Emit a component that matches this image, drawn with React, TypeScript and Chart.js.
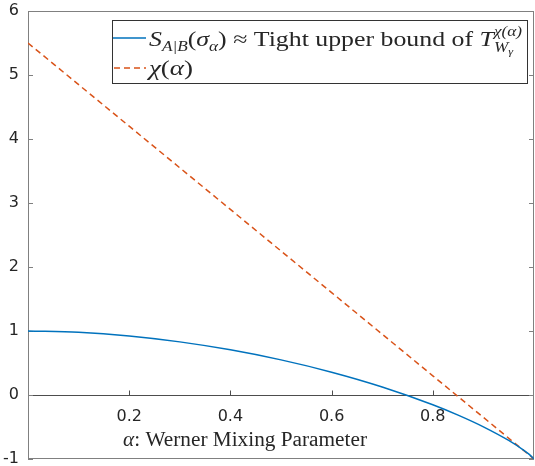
import React, { useEffect, useRef } from "react";
import { Chart, registerables } from "chart.js";
Chart.register(...registerables);

// ---- data ----
const alphaS = [0, 0.1, 0.2, 0.3, 0.4, 0.5, 0.6, 0.7, 0.8, 0.85, 0.9, 0.95, 0.98, 0.99, 1];
const sValues = [1.0, 0.98, 0.922, 0.83, 0.706, 0.549, 0.357, 0.126, -0.152, -0.314, -0.497, -0.71, -0.864, -0.924, -1.0];
const alphaChi = [0, 0.2, 0.4, 0.6, 0.8, 1];
const chiValues = [5.5, 4.2, 2.9, 1.6, 0.3, -1];
const xTicks = [0.2, 0.4, 0.6, 0.8];
const yTicks = [-1, 0, 1, 2, 3, 4, 5, 6];

const SERIF = "'Liberation Serif', 'Times New Roman', serif";
const TEXT = "#262626";

type Run = { t: string; it?: boolean; s: number; dy: number; hold?: boolean };

function drawRuns(ctx: CanvasRenderingContext2D, runs: Run[], x0: number, baseline: number, targetW: number) {
  let cx = 0;
  let maxX = 0;
  const items: { r: Run; x: number }[] = [];
  for (const r of runs) {
    ctx.font = `${r.it ? "italic " : ""}${r.s}px ${SERIF}`;
    const w = ctx.measureText(r.t).width;
    items.push({ r, x: cx });
    maxX = Math.max(maxX, cx + w);
    if (!r.hold) cx += w;
  }
  const sx = targetW / maxX;
  ctx.save();
  ctx.translate(x0, baseline);
  ctx.scale(sx, 1);
  ctx.fillStyle = TEXT;
  ctx.textBaseline = "alphabetic";
  ctx.textAlign = "left";
  for (const { r, x } of items) {
    ctx.font = `${r.it ? "italic " : ""}${r.s}px ${SERIF}`;
    ctx.fillText(r.t, x, r.dy);
  }
  ctx.restore();
}

const decoPlugin = {
  id: "deco",
  beforeDatasetsDraw(chart: any) {
    const { ctx, chartArea: a, scales } = chart;
    const x = scales.x;
    const y = scales.y;
    ctx.save();
    ctx.lineWidth = 1;
    ctx.strokeStyle = "#808080";
    ctx.strokeRect(a.left + 0.5, a.top + 0.5, a.right - a.left - 1, a.bottom - a.top - 1);
    const y0 = Math.round(y.getPixelForValue(0)) + 0.5;
    ctx.strokeStyle = "#4d4d4d";
    ctx.beginPath();
    ctx.moveTo(a.left, y0);
    ctx.lineTo(a.right, y0);
    for (const t of xTicks) {
      const px = Math.round(x.getPixelForValue(t)) + 0.5;
      ctx.moveTo(px, y0);
      ctx.lineTo(px, y0 - 5);
    }
    ctx.stroke();
    ctx.strokeStyle = "#808080";
    ctx.beginPath();
    for (const t of yTicks) {
      const py = Math.round(y.getPixelForValue(t)) + 0.5;
      ctx.moveTo(a.left, py);
      ctx.lineTo(a.left + 5, py);
      ctx.moveTo(a.right, py);
      ctx.lineTo(a.right - 5, py);
    }
    ctx.stroke();
    ctx.restore();
  },
  afterDraw(chart: any) {
    const { ctx } = chart;
    ctx.save();
    // x axis title
    drawRuns(
      ctx,
      [
        { t: "α", it: true, s: 20, dy: 0 },
        { t: ": Werner Mixing Parameter", s: 20, dy: 0 },
      ],
      123,
      446,
      244
    );
    // legend box
    ctx.fillStyle = "#ffffff";
    ctx.fillRect(112.5, 20.5, 415, 63);
    ctx.strokeStyle = "#333333";
    ctx.lineWidth = 1;
    ctx.strokeRect(112.5, 20.5, 415, 63);
    // samples
    ctx.lineWidth = 1.5;
    ctx.strokeStyle = "#0072BD";
    ctx.beginPath();
    ctx.moveTo(113, 38);
    ctx.lineTo(146, 38);
    ctx.stroke();
    ctx.strokeStyle = "#D95319";
    ctx.setLineDash([6, 4]);
    ctx.beginPath();
    ctx.moveTo(114, 68);
    ctx.lineTo(146, 68);
    ctx.stroke();
    ctx.setLineDash([]);
    // legend texts
    drawRuns(
      ctx,
      [
        { t: "S", it: true, s: 21, dy: 0 },
        { t: "A|B", it: true, s: 14, dy: 5 },
        { t: "(", s: 21, dy: 0 },
        { t: "σ", it: true, s: 21, dy: 0 },
        { t: "α", it: true, s: 14, dy: 5 },
        { t: ")", s: 21, dy: 0 },
        { t: " ≈ ", s: 21, dy: 0 },
        { t: "Tight upper bound of ", s: 21, dy: 0 },
        { t: "T", it: true, s: 21, dy: 0 },
        { t: "χ(α)", it: true, s: 14, dy: -10, hold: true },
        { t: "W", it: true, s: 14, dy: 6 },
        { t: "γ", it: true, s: 10, dy: 9 },
      ],
      149,
      46,
      373
    );
    drawRuns(
      ctx,
      [
        { t: "χ", it: true, s: 21, dy: 0 },
        { t: "(", s: 21, dy: 0 },
        { t: "α", it: true, s: 21, dy: 0 },
        { t: ")", s: 21, dy: 0 },
      ],
      149,
      75,
      44
    );
    ctx.restore();
  },
};

export default function App() {
  const ref = useRef<HTMLCanvasElement>(null);
  useEffect(() => {
    const chart = new Chart(ref.current as HTMLCanvasElement, {
      type: "line",
      data: {
        datasets: [
          {
            data: alphaS.map((a, i) => ({ x: a, y: sValues[i] })),
            borderColor: "#0072BD",
            borderWidth: 1.5,
            pointRadius: 0,
            cubicInterpolationMode: "monotone",
            fill: false,
          },
          {
            data: alphaChi.map((a, i) => ({ x: a, y: chiValues[i] })),
            borderColor: "#D95319",
            borderWidth: 1.5,
            borderDash: [6, 4],
            pointRadius: 0,
            fill: false,
          },
        ],
      } as any,
      options: {
        responsive: false,
        animation: false,
        devicePixelRatio: 1,
        layout: { padding: { left: 0, right: 1, top: 11, bottom: 7 } },
        plugins: { legend: { display: false }, tooltip: { enabled: false } },
        scales: {
          x: {
            type: "linear",
            position: { y: 0 } as any,
            min: 0,
            max: 1,
            grid: { display: false },
            border: { display: false },
            afterBuildTicks: (s: any) => {
              s.ticks = xTicks.map((v) => ({ value: v }));
            },
            ticks: {
              font: { family: "'DejaVu Sans'", size: 16 },
              color: TEXT,
              padding: 4,
              maxRotation: 0,
              autoSkip: false,
              callback: (v: any) => String(v),
            },
          },
          y: {
            type: "linear",
            min: -1,
            max: 6,
            grid: { display: false },
            border: { display: false },
            afterBuildTicks: (s: any) => {
              s.ticks = yTicks.map((v) => ({ value: v }));
            },
            afterFit: (s: any) => {
              s.width = 28;
            },
            ticks: {
              font: { family: "'DejaVu Sans'", size: 16, lineHeight: 0.01 },
              color: TEXT,
              padding: 1,
              autoSkip: false,
              callback: (v: any) => String(v),
            },
          },
        },
      } as any,
      plugins: [decoPlugin],
    });
    return () => chart.destroy();
  }, []);
  return (
    <div style={{ position: "fixed", left: 0, top: 0, width: 535, height: 466, background: "#fff" }}>
      <canvas ref={ref} width={535} height={466} style={{ display: "block", width: 535, height: 466 }} />
    </div>
  );
}
